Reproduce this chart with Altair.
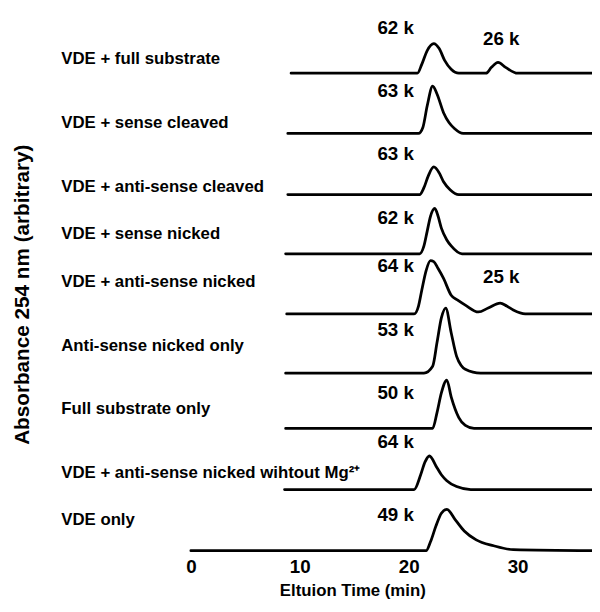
import altair as alt
import pandas as pd

# ---- data ----
samples = [
    "VDE + full substrate",
    "VDE + sense cleaved",
    "VDE + anti-sense cleaved",
    "VDE + sense nicked",
    "VDE + anti-sense nicked",
    "Anti-sense nicked only",
    "Full substrate only",
    "VDE + anti-sense nicked wihtout Mg²⁺",
    "VDE only",
]
# vertical stacking offset of each chromatogram (arbitrary absorbance units)
offsets = [48.4, 42.3, 36.1, 30.1, 24.0, 18.0, 12.4, 6.2, 0.0]
# level at which each sample name is written
name_levels = [49.8, 43.4, 36.9, 32.1, 27.2, 20.7, 14.4, 7.9, 3.1]

t_full_sub = [9.2, 20.8, 21.2, 21.7, 22.3, 22.8, 23.3, 23.9, 24.6, 27.1, 27.6, 28.2, 28.9, 30.0, 36.83]
a_full_sub = [0, 0, 0.9, 2.3, 3.0, 2.5, 1.3, 0.4, 0, 0, 0.6, 1.1, 0.6, 0, 0]

t_sense_cl = [8.9, 20.9, 21.3, 21.7, 22.2, 22.6, 23.2, 23.7, 24.2, 25.0, 36.83]
a_sense_cl = [0, 0, 0.6, 2.8, 4.8, 4.0, 2.1, 1.1, 0.5, 0, 0]

t_anti_cl = [8.9, 21.0, 21.4, 21.8, 22.3, 22.8, 23.2, 23.8, 24.6, 36.83]
a_anti_cl = [0, 0, 0.7, 1.9, 2.8, 2.2, 1.3, 0.5, 0, 0]

t_sense_nk = [8.7, 21.0, 21.4, 21.7, 22.0, 22.4, 22.7, 23.0, 23.5, 23.9, 24.9, 36.83]
a_sense_nk = [0, 0, 0.8, 2.3, 3.8, 4.6, 3.8, 2.6, 1.4, 0.8, 0, 0]

t_anti_nk = [8.8, 20.5, 20.9, 21.2, 21.6, 22.0, 22.3, 22.7, 23.2, 23.9, 24.5, 25.2, 26.4, 27.3, 28.4, 29.0, 29.6, 30.7, 36.83]
a_anti_nk = [0, 0, 0.8, 2.4, 4.4, 5.4, 5.3, 4.6, 3.6, 1.9, 1.4, 0.9, 0.2, 0.6, 1.1, 0.8, 0.4, 0, 0]

t_anti_only = [8.7, 21.4, 22.2, 22.6, 23.0, 23.4, 23.9, 24.4, 24.8, 25.2, 26.6, 36.83]
a_anti_only = [0, 0, 0.7, 3.1, 5.6, 6.6, 4.1, 1.7, 0.8, 0.4, 0, 0]

t_full_only = [8.7, 22.2, 22.6, 23.0, 23.5, 23.9, 24.6, 25.2, 26.0, 36.83]
a_full_only = [0, 0, 1.6, 3.6, 4.9, 3.2, 1.1, 0.3, 0, 0]

t_no_mg = [8.6, 20.5, 21.1, 21.5, 21.9, 22.6, 23.0, 23.5, 24.4, 25.7, 36.83]
a_no_mg = [0, 0, 1.5, 2.8, 3.4, 2.2, 1.5, 0.9, 0.3, 0, 0]

t_vde_only = [0, 21.6, 22.0, 22.5, 23.0, 23.5, 24.3, 25.1, 26.2, 27.8, 29.6, 36.83]
a_vde_only = [0, 0, 0.9, 2.5, 3.8, 4.2, 3.1, 2.0, 1.1, 0.5, 0.1, 0]

traces_t = [t_full_sub, t_sense_cl, t_anti_cl, t_sense_nk, t_anti_nk,
            t_anti_only, t_full_only, t_no_mg, t_vde_only]
traces_a = [a_full_sub, a_sense_cl, a_anti_cl, a_sense_nk, a_anti_nk,
            a_anti_only, a_full_only, a_no_mg, a_vde_only]

peak_text = ["62 k", "26 k", "63 k", "63 k", "62 k", "64 k", "25 k", "53 k", "50 k", "64 k", "49 k"]
peak_t = [18.8, 28.5, 18.8, 18.8, 18.8, 18.8, 28.5, 18.8, 18.8, 18.8, 18.8]
peak_y = [53.0, 51.9, 46.55, 40.2, 33.7, 28.9, 27.7, 22.4, 16.0, 11.0, 3.6]

x_ticks = [0, 10, 20, 30]

# ---- tables ----
rows = []
for name, off, ts, as_ in zip(samples, offsets, traces_t, traces_a):
    for i, (t, a) in enumerate(zip(ts, as_)):
        rows.append({"sample": name, "time": t, "signal": off + a, "order": i})
lines_df = pd.DataFrame(rows)

NAME_T = -11.9
names_df = pd.DataFrame({"sample": samples, "time": [NAME_T] * len(samples), "level": name_levels})
peaks_df = pd.DataFrame({"text": peak_text, "time": peak_t, "level": peak_y})

FONT = "Liberation Sans"
xscale = alt.Scale(domain=[-16.79, 36.83], nice=False, zero=False)
yscale = alt.Scale(domain=[-0.6, 54.6], nice=False, zero=False)

lines = alt.Chart(lines_df).mark_line(
    color="black", strokeWidth=2.8, interpolate="monotone", strokeJoin="round", strokeCap="round"
).encode(
    x=alt.X("time:Q", scale=xscale,
            axis=alt.Axis(values=x_ticks, format="d", domain=False, ticks=False, grid=False,
                          labelFont=FONT, labelFontSize=19, labelFontWeight="bold",
                          labelColor="black", labelPadding=1,
                          title="Eltuion Time (min)", titleFont=FONT, titleFontSize=17,
                          titleFontWeight="bold", titleColor="black",
                          titleX=349, titleY=34, titleAlign="center", titleBaseline="middle")),
    y=alt.Y("signal:Q", scale=yscale,
            axis=alt.Axis(labels=False, ticks=False, domain=False, grid=False,
                          title="Absorbance 254 nm  (arbitrary)", titleFont=FONT,
                          titleFontSize=21, titleFontWeight="bold", titleColor="black",
                          titleX=15, titleY=286, titleAngle=270,
                          titleAlign="center", titleBaseline="middle")),
    detail="sample:N",
    order="order:Q",
)

names = alt.Chart(names_df).mark_text(
    align="left", baseline="middle", font=FONT, fontSize=17, fontWeight="bold", color="black"
).encode(
    x=alt.X("time:Q", scale=xscale),
    y=alt.Y("level:Q", scale=yscale),
    text="sample:N",
)

peaks = alt.Chart(peaks_df).mark_text(
    align="center", baseline="middle", font=FONT, fontSize=19, fontWeight="bold", color="black"
).encode(
    x=alt.X("time:Q", scale=xscale),
    y=alt.Y("level:Q", scale=yscale),
    text="text:N",
)

chart = alt.layer(lines, names, peaks).properties(
    width=592, height=552,
    autosize=alt.AutoSizeParams(type="none"),
    padding={"left": 0, "top": 0, "right": 0, "bottom": 52},
    background="white",
).configure_view(stroke=None)

chart.save("out.html", embed_options={"renderer": "svg", "actions": False})
